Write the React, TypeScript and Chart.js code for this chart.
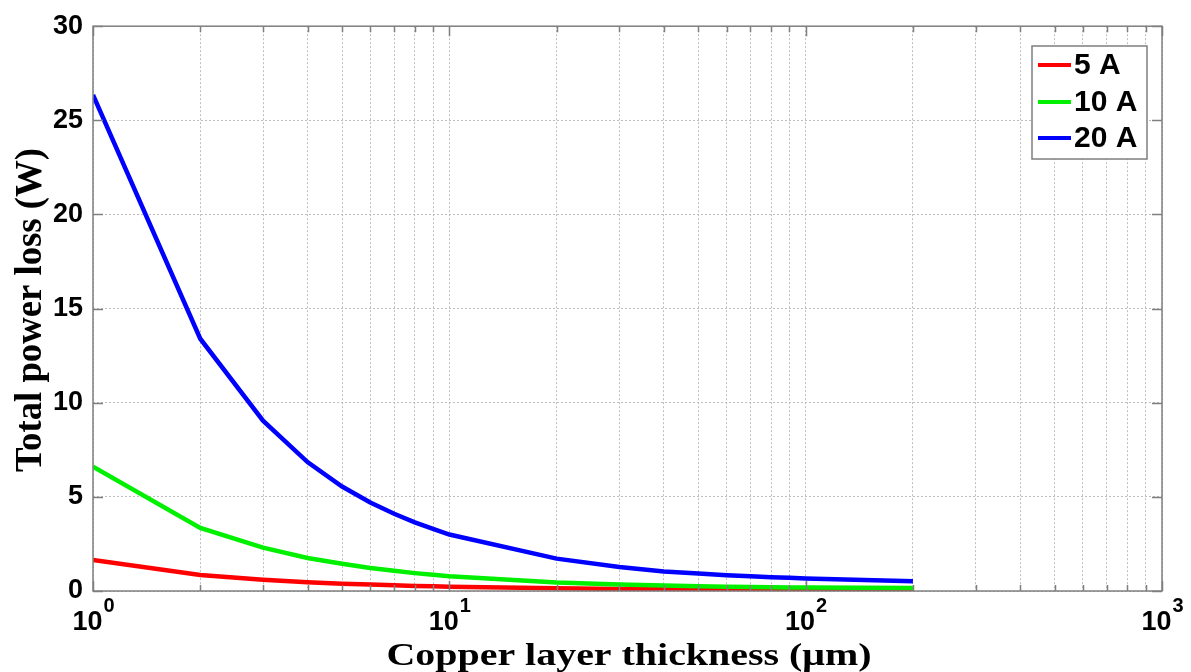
import React, { useEffect, useRef } from "react";
import { Chart, registerables } from "chart.js";

Chart.register(...registerables);

// ---- data ----
const thickness = [1, 2, 3, 4, 5, 6, 7, 8, 9, 10, 20, 30, 40, 50, 60, 70, 80, 90, 100, 200];
const loss5A = [1.65, 0.85, 0.6, 0.47, 0.39, 0.34, 0.3, 0.27, 0.25, 0.23, 0.14, 0.11, 0.09, 0.08, 0.075, 0.07, 0.065, 0.062, 0.06, 0.05];
const loss10A = [6.6, 3.35, 2.3, 1.75, 1.45, 1.22, 1.07, 0.95, 0.86, 0.78, 0.45, 0.34, 0.29, 0.25, 0.23, 0.21, 0.2, 0.19, 0.18, 0.16];
const loss20A = [26.35, 13.4, 9.05, 6.85, 5.55, 4.7, 4.1, 3.65, 3.3, 3.0, 1.72, 1.28, 1.04, 0.93, 0.84, 0.78, 0.73, 0.7, 0.67, 0.52];
const seriesLabels = ["5 A", "10 A", "20 A"];
const seriesColors = ["#ff0000", "#00f000", "#0000ff"];
const xGridValues = [
  1, 2, 3, 4, 5, 6, 7, 8, 9, 10, 20, 30, 40, 50, 60, 70, 80, 90, 100, 200, 300, 400, 500, 600, 700, 800, 900, 1000,
];
const xDecades = [1, 10, 100, 1000];
const xExponents = ["0", "1", "2", "3"];
const yTicks = [0, 5, 10, 15, 20, 25, 30];
const xTitle = "Copper layer thickness (\u03bcm)";
const yTitle = "Total power loss (W)";

const BORDER = "#7f7f7f";
const SANS = '"Liberation Sans", Arial, sans-serif';
const SERIF = '"Liberation Serif", "Times New Roman", serif';

const decorPlugin = {
  id: "decor",
  afterDatasetsDraw(chart: any) {
    const { ctx, chartArea } = chart;
    const { left, right, top, bottom } = chartArea;
    const xs = chart.scales.x;
    const ys = chart.scales.y;
    ctx.save();
    ctx.strokeStyle = BORDER;
    ctx.lineWidth = 1.5;
    ctx.beginPath();
    xGridValues.forEach((v) => {
      const px = Math.round(xs.getPixelForValue(v)) + 0.5;
      const len = xDecades.includes(v) ? 10 : 6;
      ctx.moveTo(px, bottom);
      ctx.lineTo(px, bottom - len);
      ctx.moveTo(px, top);
      ctx.lineTo(px, top + len);
    });
    yTicks.forEach((v) => {
      const py = Math.round(ys.getPixelForValue(v)) + 0.5;
      ctx.moveTo(left, py);
      ctx.lineTo(left + 10, py);
      ctx.moveTo(right, py);
      ctx.lineTo(right - 10, py);
    });
    ctx.stroke();
    ctx.lineWidth = 1.5;
    ctx.strokeRect(left, top, right - left, bottom - top);
    ctx.restore();
  },
  afterDraw(chart: any) {
    const { ctx } = chart;
    const xs = chart.scales.x;
    ctx.save();
    ctx.fillStyle = "#000";
    xDecades.forEach((v, i) => {
      const px = xs.getPixelForValue(v);
      ctx.font = `bold 27px ${SANS}`;
      const wBase = ctx.measureText("10").width;
      ctx.font = `bold 20px ${SANS}`;
      const wExp = ctx.measureText(xExponents[i]).width;
      const start = px - (wBase + wExp) / 2;
      ctx.textAlign = "left";
      ctx.textBaseline = "alphabetic";
      ctx.font = `bold 27px ${SANS}`;
      ctx.fillText("10", start, 630);
      ctx.font = `bold 20px ${SANS}`;
      ctx.fillText(xExponents[i], start + wBase + 1, 612);
    });
    ctx.font = `bold 31px ${SERIF}`;
    let w = ctx.measureText(xTitle).width;
    ctx.save();
    ctx.translate(629, 665);
    ctx.scale(485 / w, 1);
    ctx.textAlign = "center";
    ctx.fillText(xTitle, 0, 0);
    ctx.restore();
    ctx.font = `bold 37px ${SERIF}`;
    w = ctx.measureText(yTitle).width;
    ctx.save();
    ctx.translate(41, 310);
    ctx.rotate(-Math.PI / 2);
    ctx.scale(324 / w, 1);
    ctx.textAlign = "center";
    ctx.fillText(yTitle, 0, 0);
    ctx.restore();
    const lx = 1032, ly = 46, lw = 115, lh = 113;
    ctx.fillStyle = "#fff";
    ctx.fillRect(lx, ly, lw, lh);
    ctx.strokeStyle = BORDER;
    ctx.lineWidth = 1.5;
    ctx.strokeRect(lx, ly, lw, lh);
    const rows = [65, 102, 138];
    seriesLabels.forEach((lab, i) => {
      ctx.strokeStyle = seriesColors[i];
      ctx.lineWidth = 4;
      ctx.beginPath();
      ctx.moveTo(1038, rows[i]);
      ctx.lineTo(1071, rows[i]);
      ctx.stroke();
      ctx.fillStyle = "#000";
      ctx.font = `bold 30px ${SANS}`;
      ctx.textAlign = "left";
      ctx.textBaseline = "middle";
      ctx.fillText(lab, 1074, rows[i] + 1);
    });
    ctx.restore();
  },
};

export default function App() {
  const ref = useRef<HTMLCanvasElement | null>(null);
  useEffect(() => {
    document.body.style.margin = "0";
    const canvas = ref.current;
    if (!canvas) return;
    const series = [loss5A, loss10A, loss20A];
    const chart = new Chart(canvas, {
      type: "line",
      data: {
        datasets: series.map((vals, i) => ({
          label: seriesLabels[i],
          data: thickness.map((t, j) => ({ x: t, y: vals[j] })),
          borderColor: seriesColors[i],
          backgroundColor: seriesColors[i],
          borderWidth: 4.5,
          pointRadius: 0,
          tension: 0,
          order: 3 - i,
        })),
      },
      options: {
        animation: false,
        responsive: false,
        devicePixelRatio: 1,
        layout: { padding: { left: 0, right: 29, top: 25, bottom: 0 } },
        plugins: { legend: { display: false }, tooltip: { enabled: false } },
        scales: {
          x: {
            type: "logarithmic",
            min: 1,
            max: 1000,
            afterBuildTicks: (scale: any) => {
              scale.ticks = xGridValues.map((v) => ({ value: v }));
            },
            afterFit: (scale: any) => {
              scale.height = 81;
            },
            ticks: { display: false },
            grid: { color: "#bdbdbd", lineWidth: 1, drawTicks: false },
            border: { display: false, dash: [2, 2] },
          },
          y: {
            type: "linear",
            min: 0,
            max: 30,
            afterBuildTicks: (scale: any) => {
              scale.ticks = yTicks.map((v) => ({ value: v }));
            },
            afterFit: (scale: any) => {
              scale.width = 93;
            },
            ticks: {
              color: "#000",
              font: { family: SANS, size: 27, weight: "bold" },
              padding: 10,
            },
            grid: { color: "#bdbdbd", lineWidth: 1, drawTicks: false },
            border: { display: false, dash: [2, 2] },
          },
        },
      },
      plugins: [decorPlugin],
    } as any);
    return () => chart.destroy();
  }, []);
  return <canvas ref={ref} width={1191} height={672} style={{ display: "block" }} />;
}
